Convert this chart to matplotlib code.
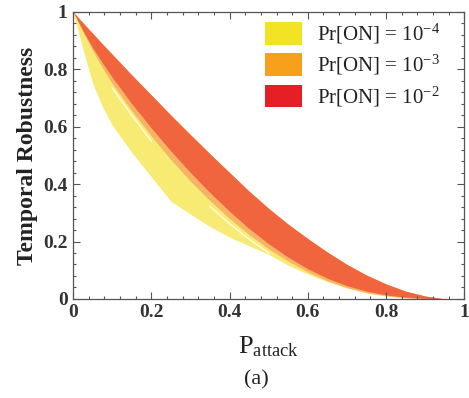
#!/usr/bin/env python3
"""Temporal robustness bands versus attack probability, one band per Pr[ON]."""

import matplotlib

matplotlib.use("Agg")
import matplotlib.pyplot as plt
import numpy as np
from matplotlib.patches import Patch
from matplotlib.ticker import MultipleLocator

plt.rcParams["font.family"] = ["Liberation Serif", "DejaVu Serif"]
plt.rcParams["mathtext.fontset"] = "custom"
plt.rcParams["mathtext.rm"] = "Liberation Serif"
plt.rcParams["mathtext.it"] = "Liberation Serif:italic"
plt.rcParams["mathtext.bf"] = "Liberation Serif:bold"

# attack probability grid shared by all band edges
p_attack = [0, 0.025, 0.05, 0.075, 0.1, 0.15, 0.2, 0.25, 0.3, 0.35, 0.4, 0.45,
            0.5, 0.55, 0.6, 0.65, 0.7, 0.75, 0.8, 0.85, 0.9, 0.95, 1.0]

# Pr[ON] = 1e-2 band
red_upper = [1, 0.962, 0.925, 0.888, 0.852, 0.78, 0.71, 0.64, 0.572, 0.505, 0.44, 0.375,
             0.315, 0.26, 0.21, 0.163, 0.12, 0.083, 0.052, 0.027, 0.01, 0.0, 0.0]
red_lower = [1, 0.935, 0.875, 0.822, 0.772, 0.68, 0.595, 0.515, 0.44, 0.37, 0.305, 0.245,
             0.192, 0.145, 0.105, 0.072, 0.046, 0.027, 0.014, 0.006, 0.002, 0.0, 0.0]

# Pr[ON] = 1e-3 band (mostly hidden under the 1e-2 band)
orange_upper = red_upper
orange_lower = [1, 0.93, 0.865, 0.805, 0.75, 0.655, 0.567, 0.485, 0.41, 0.342, 0.28, 0.224,
                0.174, 0.131, 0.094, 0.063, 0.039, 0.022, 0.011, 0.004, 0.001, 0.0, 0.0]

# Pr[ON] = 1e-4 band
yellow_upper = red_upper
yellow_lower = [1, 0.87, 0.75, 0.67, 0.605, 0.51, 0.425, 0.34, 0.295, 0.252, 0.215, 0.185,
                0.155, 0.117, 0.086, 0.06, 0.038, 0.02, 0.01, 0.004, 0.001, 0.0, 0.0]

# thin unfilled seam inside the 1e-4 band (nan = no seam visible)
seam_x = [0.1, 0.15, 0.2, 0.25, 0.3, 0.35, 0.4, 0.45, 0.5, 0.55, 0.6, 0.65, 0.7]
seam_y = [0.735, 0.64, 0.55, np.nan, np.nan, 0.322, 0.262, 0.208, 0.16, np.nan,
          0.082, 0.053, np.nan]

labels = [r"Pr[ON] = 10$^{-4}$", r"Pr[ON] = 10$^{-3}$", r"Pr[ON] = 10$^{-2}$"]
legend_colors = ["#f2e424", "#f6a01e", "#e61f26"]

fig = plt.figure(figsize=(4.69, 3.98), dpi=100)
ax = fig.add_axes([0.156, 0.249, 0.834, 0.721])

x = np.array(p_attack)
ax.fill_between(x, yellow_lower, yellow_upper, color="#f7eb73", lw=0)
ax.fill_between(x, orange_lower, orange_upper, color="#f8b466", lw=0)
ax.fill_between(x, red_lower, red_upper, color="#f0643e", lw=0)
ax.plot(seam_x, seam_y, color="white", lw=1.0, alpha=0.85, solid_capstyle="round")

ax.set_xlim(0, 1)
ax.set_ylim(0, 1)
ax.xaxis.set_major_locator(MultipleLocator(0.2))
ax.yaxis.set_major_locator(MultipleLocator(0.2))
ax.xaxis.set_minor_locator(MultipleLocator(0.04))
ax.yaxis.set_minor_locator(MultipleLocator(0.04))
ax.xaxis.set_major_formatter(lambda v, _: f"{v:g}")
ax.yaxis.set_major_formatter(lambda v, _: f"{v:g}")
ax.tick_params(which="both", direction="in", top=True, right=True,
               color="#555555", width=0.8)
ax.tick_params(which="major", length=5, labelsize=14, labelcolor="#333333", pad=4)
ax.tick_params(which="minor", length=2.5)
for lab in ax.get_xticklabels() + ax.get_yticklabels():
    lab.set_fontweight("bold")
for sp in ax.spines.values():
    sp.set_color("#555555")
    sp.set_linewidth(0.9)

ax.set_ylabel("Temporal Robustness", fontsize=17, fontweight="bold",
              color="#222222", labelpad=4)
ax.set_xlabel(r"$\mathrm{P}_{\mathrm{attack}}$", fontsize=19, color="#222222", labelpad=9)
fig.text(0.546, 0.045, "(a)", fontsize=16, color="#222222", ha="center", va="center")

handles = [Patch(facecolor=c, edgecolor="none") for c in legend_colors]
ax.legend(handles, labels, loc="upper left", bbox_to_anchor=(0.49, 0.965),
          frameon=False, fontsize=15, handlelength=1.78, handleheight=1.3,
          handletextpad=0.72, labelspacing=0.34, borderpad=0, borderaxespad=0,
          labelcolor="#222222")

fig.savefig("out.png", dpi=100)
plt.close(fig)
